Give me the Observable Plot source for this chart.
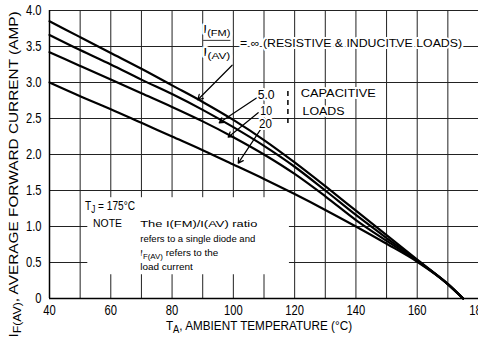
<!DOCTYPE html>
<html><head><meta charset="utf-8">
<script src="https://cdn.jsdelivr.net/npm/d3@7"></script>
<script src="https://cdn.jsdelivr.net/npm/@observablehq/plot@0.6"></script>
<style>
body{margin:0;background:#fff;}
#chart svg{display:block;}
</style></head><body><div id="chart"></div>
<script>
// ---- data ----
const temps     = [40,   50,   60,   70,   80,   90,   100,  110,  120,  130,  140,  150,  160,  170,  175];
const resistive = [3.85, 3.63, 3.41, 3.19, 2.96, 2.73, 2.48, 2.20, 1.89, 1.56, 1.22, 0.88, 0.54, 0.20, 0];
const cap50     = [3.66, 3.45, 3.25, 3.04, 2.84, 2.62, 2.38, 2.12, 1.83, 1.50, 1.16, 0.84, 0.53, 0.20, 0];
const cap10     = [3.42, 3.23, 3.04, 2.85, 2.66, 2.46, 2.24, 2.00, 1.73, 1.42, 1.09, 0.80, 0.52, 0.20, 0];
const cap20     = [3.00, 2.81, 2.63, 2.44, 2.25, 2.06, 1.86, 1.66, 1.45, 1.23, 1.00, 0.76, 0.51, 0.20, 0];
const seriesNames = ["resistive", "5.0", "10", "20"];
const xTicks = [40, 60, 80, 100, 120, 140, 160, 180];
const yTicks = [0, 0.5, 1.0, 1.5, 2.0, 2.5, 3.0, 3.5, 4.0];
const xGridValues = [40, 50, 60, 70, 80, 90, 100, 110, 120, 130, 140, 150, 160, 170, 180];
const xTitle = "T_{A}, AMBIENT TEMPERATURE (°C)";
const yTitle = "I_{F(AV)}, AVERAGE FORWARD CURRENT (AMP)";

// annotations (data units)
const ratioLabels = [
  {x: 90.2, y: 3.74, text: "I_{(FM)}"},
  {x: 90.2, y: 3.42, text: "I_{(AV)}"}
];
const resistiveLabel = [{x: 102.2, y: 3.54, text: "= ∞ (RESISTIVE & INDUCITVE LOADS)"}];
const ratioValues = [
  {x: 110.7, y: 2.83, text: "5.0"},
  {x: 110.7, y: 2.61, text: "10"},
  {x: 110.5, y: 2.42, text: "20"}
];
const capacitiveLabel = [
  {x: 122, y: 2.85, text: "CAPACITIVE"},
  {x: 122.6, y: 2.60, text: "LOADS"}
];
const arrows = [
  {x1: 99.6, y1: 3.24, x2: 88.4, y2: 2.76},
  {x1: 107.8, y1: 2.79, x2: 95.4, y2: 2.44},
  {x1: 108.1, y1: 2.58, x2: 98.3, y2: 2.24},
  {x1: 108.9, y1: 2.35, x2: 101.6, y2: 1.88}
];
const tjLabel = [{x: 51.6, y: 1.29, text: "T_{J} = 175°C"}];
const noteHead = [{x: 54.2, y: 1.04, text: "NOTE"}];
const noteLines = [
  {x: 69.6, y: 1.04, text: "The I(FM)/I(AV) ratio"},
  {x: 69.6, y: 0.83, text: "refers to a single diode and"},
  {x: 69.6, y: 0.63, text: "I_{F(AV)} refers to the"},
  {x: 69.6, y: 0.44, text: "load current"}
];
const noteBox = [{x1: 52.5, x2: 118.3, y1: 0.33, y2: 1.40}];
const fractionBar = [{x1: 90.3, x2: 99.2, y: 3.585}];
const capBracket = [{x: 117.8, y1: 2.43, y2: 2.93}];

// measured text widths in the reference (px)
const textWidths = {
  [yTitle]: 326, [xTitle]: 186,
  "= ∞ (RESISTIVE & INDUCITVE LOADS)": 222,
  "CAPACITIVE": 75, "LOADS": 42,
  "The I(FM)/I(AV) ratio": 117, "refers to a single diode and": 115,
  "I_{F(AV)} refers to the": 78, "load current": 53,
  "NOTE": 29, "T_{J} = 175°C": 50,
  "5.0": 17, "10": 12, "20": 13,
  "I_{(FM)}": 27, "I_{(AV)}": 27
};

const series = [resistive, cap50, cap10, cap20];
const rows = seriesNames.flatMap((s, i) => temps.map((t, j) => ({t, v: series[i][j], s})));

const FONT = "'Liberation Sans', Arial, Helvetica, sans-serif";
const halo = {fill: "black", stroke: "white", strokeWidth: 4, paintOrder: "stroke"};

const chart = Plot.plot({
  width: 478, height: 344,
  marginLeft: 49, marginRight: 0, marginTop: 10, marginBottom: 46,
  style: {fontFamily: FONT, fontSize: "14px", background: "white", color: "black", overflow: "visible"},
  x: {domain: [40, 180], ticks: xTicks, tickFormat: d => String(d), tickSize: 0, tickPadding: 7, label: null},
  y: {domain: [0, 4], ticks: yTicks, tickFormat: d => d === 0 ? "0" : d.toFixed(1), tickSize: 0, tickPadding: 8, label: null},
  marks: [
    Plot.ruleX(xGridValues, {stroke: "#222", strokeWidth: 1}),
    Plot.ruleY(yTicks, {stroke: "#222", strokeWidth: 1}),
    Plot.ruleX([40], {stroke: "black", strokeWidth: 1.5}),
    Plot.ruleY([0], {stroke: "black", strokeWidth: 1.5}),
    Plot.rect(noteBox, {x1: "x1", x2: "x2", y1: "y1", y2: "y2", fill: "white"}),
    Plot.line(rows, {x: "t", y: "v", z: "s", stroke: "black", strokeWidth: 2.2, curve: "monotone-x"}),
    Plot.arrow(arrows, {x1: "x1", y1: "y1", x2: "x2", y2: "y2", stroke: "black", strokeWidth: 1.2, headLength: 7}),
    Plot.ruleX(capBracket, {x: "x", y1: "y1", y2: "y2", stroke: "black", strokeWidth: 1.5, strokeDasharray: "5,4"}),
    Plot.text(ratioLabels, {x: "x", y: "y", text: "text", textAnchor: "start", fontSize: 11, ...halo}),
    Plot.text(resistiveLabel, {x: "x", y: "y", text: "text", textAnchor: "start", fontSize: 11, ...halo}),
    Plot.text(ratioValues, {x: "x", y: "y", text: "text", textAnchor: "middle", fontSize: 13, ...halo}),
    Plot.text(capacitiveLabel, {x: "x", y: "y", text: "text", textAnchor: "start", fontSize: 11.5, ...halo}),
    Plot.text(tjLabel, {x: "x", y: "y", text: "text", textAnchor: "start", fontSize: 13, ...halo}),
    Plot.text(noteHead, {x: "x", y: "y", text: "text", textAnchor: "start", fontSize: 11, ...halo}),
    Plot.text(noteLines, {x: "x", y: "y", text: "text", textAnchor: "start", fontSize: 9.5, ...halo}),
    Plot.ruleY(fractionBar, {x1: "x1", x2: "x2", y: "y", stroke: "black", strokeWidth: 0.8}),
    Plot.text([xTitle], {frameAnchor: "bottom", textAnchor: "middle", dx: -5, dy: 31, fontSize: 13}),
    Plot.text([yTitle], {frameAnchor: "left", textAnchor: "middle", dx: -36, dy: 20, rotate: -90, fontSize: 13})
  ]
});
document.getElementById("chart").appendChild(chart);

// render _{...} as subscripts and condense texts to the reference widths
chart.querySelectorAll("text").forEach(el => {
  const raw = el.textContent;
  const fs = parseFloat(getComputedStyle(el).fontSize) || 12;
  if (raw.includes("_{") && !el.children.length) {
    const shift = fs * 0.28;
    el.textContent = "";
    const re = /_\{([^}]*)\}/g;
    let last = 0, m, down = false;
    const add = (str, sub) => {
      const t = document.createElementNS("http://www.w3.org/2000/svg", "tspan");
      t.textContent = str;
      if (sub && !down) { t.setAttribute("dy", shift); down = true; }
      if (!sub && down) { t.setAttribute("dy", -shift); down = false; }
      if (sub) t.setAttribute("font-size", (fs * 0.8).toFixed(1));
      el.appendChild(t);
    };
    while ((m = re.exec(raw))) {
      if (m.index > last) add(raw.slice(last, m.index), false);
      add(m[1], true);
      last = re.lastIndex;
    }
    if (last < raw.length) add(raw.slice(last), false);
  }
  const rotated = raw === yTitle;
  const size = () => { const r = el.getBoundingClientRect(); return rotated ? r.height : r.width; };
  const base = el.getAttribute("transform") || "";
  const ax = parseFloat(el.getAttribute("x")) || 0;
  const apply = f => el.setAttribute("transform", `${base} translate(${ax},0) scale(${f.toFixed(4)},1) translate(${-ax},0)`);
  if (textWidths[raw] != null) {
    const target = textWidths[raw];
    let f = 1;
    for (let k = 0; k < 3; k++) {
      const w = size();
      if (!w) break;
      f *= target / w;
      apply(f);
    }
  } else if (el.closest('[aria-label$="tick label"]')) {
    apply(0.8);
  }
});
</script></body></html>
